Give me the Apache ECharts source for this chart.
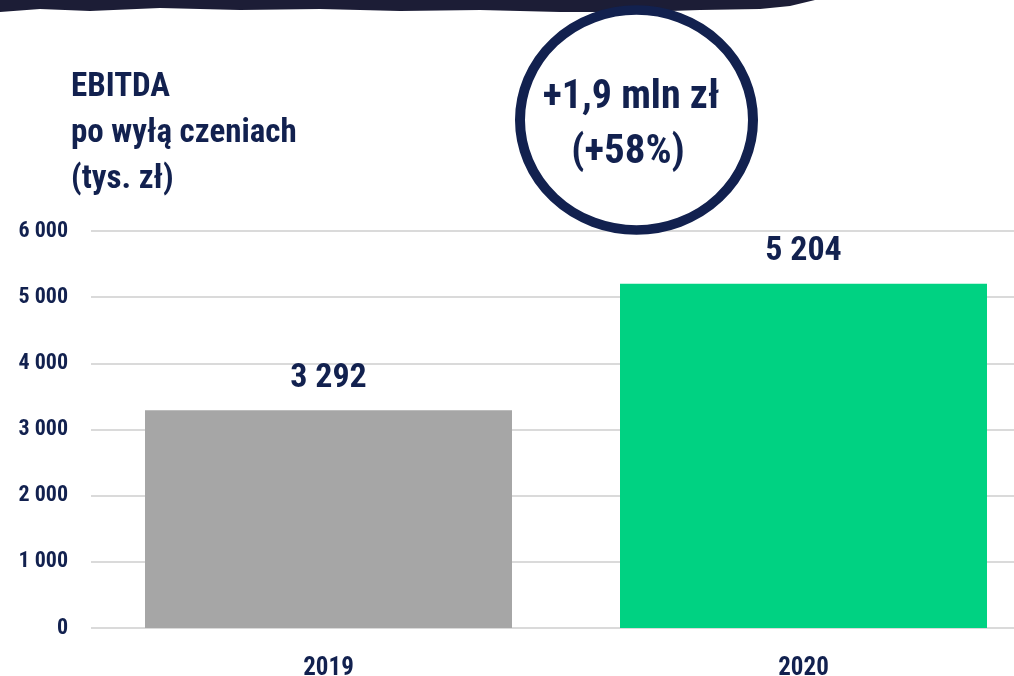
<!DOCTYPE html>
<html>
<head>
<meta charset="utf-8">
<script src="https://cdn.jsdelivr.net/npm/echarts@6/dist/echarts.min.js"></script>
<style>html,body{margin:0;padding:0;background:#fff}#c{width:1014px;height:676px}</style>
</head>
<body>
<div id="c"></div>
<script>
const categories = ['2019', '2020'];
const values = [3292, 5204];
const barColors = ['#a6a6a6', '#00d282'];
const titleLines = ['EBITDA', 'po wyłą czeniach', '(tys. zł)'];
const badgeLines = ['+1,9 mln zł', '(+58%)'];

const NAVY = '#12214f';
const FONT = "'Roboto Condensed','DejaVu Sans Condensed',sans-serif";
const fmt = v => String(v).replace(/\B(?=(\d{3})+(?!\d))/g, ' ');

const chart = echarts.init(document.getElementById('c'));
chart.setOption({
  backgroundColor: '#fff',
  animation: false,
  title: {
    text: titleLines.join('\n'),
    left: 66, top: 60,
    textStyle: { color: NAVY, fontFamily: FONT, fontWeight: 'bold', fontSize: 33, lineHeight: 46 }
  },
  grid: { left: 91, right: -27, top: 231, bottom: 48, outerBoundsMode: 'none', containLabel: false },
  xAxis: {
    type: 'category',
    data: categories,
    axisLine: { show: false },
    axisTick: { show: false },
    axisLabel: { color: NAVY, fontFamily: FONT, fontWeight: 'bold', fontSize: 25, margin: 28 }
  },
  yAxis: {
    type: 'value',
    min: 0, max: 6000, interval: 1000,
    axisLine: { show: false },
    axisTick: { show: false },
    splitLine: { lineStyle: { color: '#dadada', width: 2 } },
    axisLabel: { color: NAVY, fontFamily: FONT, fontWeight: 'bold', fontSize: 22, margin: 23, formatter: fmt }
  },
  series: [{
    type: 'bar',
    barWidth: 367,
    data: values.map((v, i) => ({ value: v, itemStyle: { color: barColors[i] } })),
    label: {
      show: true, position: 'top', distance: 15,
      color: NAVY, fontFamily: FONT, fontWeight: 'bold', fontSize: 34,
      formatter: p => fmt(p.value)
    }
  }],
  graphic: [
    {
      type: 'polygon', z: 10,
      shape: { points: [[0,0],[815,0],[790,6],[760,9],[700,10],[640,12],[560,12],[480,10],[400,11],[320,9],[240,10],[160,8],[90,11],[40,9],[0,12]] },
      style: { fill: '#1c1d36' }
    },
    {
      type: 'circle', z: 10,
      shape: { cx: 636.5, cy: 120, r: 116.5 },
      scaleY: 0.944, originX: 636.5, originY: 120,
      style: { fill: 'rgba(0,0,0,0)', stroke: NAVY, lineWidth: 10 }
    },
    {
      type: 'text', z: 11, x: 631, y: 98,
      style: { text: badgeLines[0], fill: NAVY, font: 'bold 40px ' + FONT, textAlign: 'center', textVerticalAlign: 'middle' }
    },
    {
      type: 'text', z: 11, x: 628, y: 153,
      style: { text: badgeLines[1], fill: NAVY, font: 'bold 41px ' + FONT, textAlign: 'center', textVerticalAlign: 'middle' }
    }
  ]
});
</script>
</body>
</html>
